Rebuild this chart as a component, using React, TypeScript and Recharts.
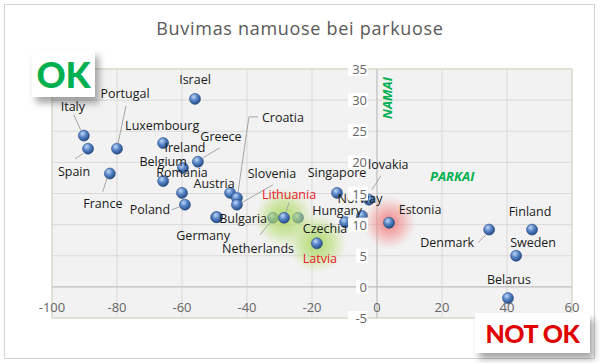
import React from 'react';
import {
  ScatterChart, Scatter, XAxis, YAxis, CartesianGrid, ReferenceLine, ReferenceArea,
} from 'recharts';

// parks change (x) and residential change (y)
const countries = [
  'Israel', 'Italy', 'Spain', 'Portugal', 'France', 'Luxembourg', 'Ireland', 'Greece',
  'Belgium', 'Romania', 'Poland', 'Austria', 'Croatia', 'Slovenia', 'Germany', 'Bulgaria',
  'Netherlands', 'Czechia', 'Singapore', 'Hungary', 'Norway', 'Slovakia',
  'Denmark', 'Finland', 'Sweden', 'Belarus',
];
const parkChange = [
  -56.0, -90.2, -88.9, -80.0, -82.2, -65.8, -59.7, -55.1,
  -65.8, -60.0, -59.1, -45.2, -43.1, -43.1, -49.5, -49.2,
  -32.0, -24.3, -12.3, -9.8, -4.6, -2.5,
  34.5, 47.7, 42.8, 40.3,
];
const homeChange = [
  30.2, 24.3, 22.2, 22.2, 18.2, 23.1, 19.1, 20.1,
  17.0, 15.1, 13.2, 15.1, 14.3, 13.2, 11.2, 11.2,
  11.1, 11.1, 15.1, 10.4, 11.4, 14.0,
  9.2, 9.2, 5.0, -1.8,
];

// highlighted countries
const greenCountries = ['Lithuania', 'Latvia'];
const greenPark = [-28.6, -18.5];
const greenHome = [11.1, 7.0];
const redCountries = ['Estonia'];
const redPark = [3.7];
const redHome = [10.3];

const xTicks = [-100, -80, -60, -40, -20, 0, 20, 40, 60];
const yTicks = [-5, 0, 5, 10, 15, 20, 25, 30, 35];

// label placement in px relative to the point, with optional leader line
const labelPos: Record<string, { dx: number; dy: number; leader?: number[][] }> = {
  Israel: { dx: 0, dy: -19 },
  Italy: { dx: -11, dy: -29, leader: [[-10, -21], [-3, -5]] },
  Spain: { dx: -14, dy: 23, leader: [[-13, 10], [-5, 5]] },
  Portugal: { dx: 8, dy: -55, leader: [[9, -43], [1, -5]] },
  France: { dx: -7, dy: 30, leader: [[-7, 18], [-3, 5]] },
  Luxembourg: { dx: -1, dy: -18 },
  Ireland: { dx: 2, dy: -20 },
  Greece: { dx: 23, dy: -25, leader: [[22, -14], [5, -4]] },
  Belgium: { dx: 0, dy: -20 },
  Romania: { dx: 0, dy: -20 },
  Poland: { dx: -35, dy: 5, leader: [[-13, 5], [-5, 2]] },
  Austria: { dx: -16, dy: -9 },
  Croatia: { dx: 46, dy: -80, leader: [[21, -81], [12, -81], [1, -5]] },
  Slovenia: { dx: 35, dy: -31, leader: [[36, -20], [5, -2]] },
  Germany: { dx: -13, dy: 18 },
  Bulgaria: { dx: 26, dy: 1 },
  Netherlands: { dx: -15, dy: 31, leader: [[-13, 17], [-3, 5]] },
  Lithuania: { dx: 5, dy: -23, leader: [[5, -15], [2, -6]] },
  Czechia: { dx: 27, dy: 11 },
  Latvia: { dx: 3, dy: 15 },
  Singapore: { dx: 0, dy: -20 },
  Hungary: { dx: -8, dy: -12 },
  Norway: { dx: -2, dy: -17 },
  Slovakia: { dx: 16, dy: -35, leader: [[12, -24], [3, -10]] },
  Estonia: { dx: 31, dy: -13 },
  Denmark: { dx: -42, dy: 13, leader: [[-11, 13], [-3, 5]] },
  Finland: { dx: -2, dy: -18 },
  Sweden: { dx: 17, dy: -13 },
  Belarus: { dx: 1, dy: -19 },
};

const W = 600;
const H = 363;
const axisH = 20;
const axisW = 20;
// plot area: x 52..572, y 69..318
const margin = { top: 69, right: 28, bottom: 45 - axisH, left: 52 - axisW };
const plotLeft = margin.left + axisW;
const plotBottom = H - margin.bottom - axisH;
const plotW = W - plotLeft - margin.right;
const zeroX = plotLeft + (plotW * (0 - xTicks[0])) / (xTicks[xTicks.length - 1] - xTicks[0]);
const font = '"Open Sans", sans-serif';

const toPoints = (names: string[], xs: number[], ys: number[]) =>
  names.map((name, i) => ({ name, x: xs[i], y: ys[i] }));

const basePoints = toPoints(countries, parkChange, homeChange);
const greenPoints = toPoints(greenCountries, greenPark, greenHome);
const redPoints = toPoints(redCountries, redPark, redHome);
const allPoints = [...basePoints, ...greenPoints, ...redPoints];

const Ball = (props: any) => {
  const { cx, cy } = props;
  if (cx == null || cy == null) return null;
  return <circle cx={cx} cy={cy} r={5.5} fill="url(#ball)" stroke="#2b4f86" strokeWidth={0.6} />;
};

const glow = (id: string, r: number) => (props: any) => {
  const { cx, cy } = props;
  if (cx == null || cy == null) return null;
  return <circle cx={cx} cy={cy} r={r} fill={`url(#${id})`} />;
};

const PointLabel = (props: any) => {
  const { cx, cy, payload } = props;
  if (cx == null || cy == null) return null;
  const pos = labelPos[payload.name] || { dx: 0, dy: -18 };
  const red = greenCountries.includes(payload.name);
  return (
    <g>
      {pos.leader && (
        <polyline
          points={pos.leader.map(([a, b]) => `${cx + a},${cy + b}`).join(' ')}
          fill="none"
          stroke="#a6a6a6"
          strokeWidth={1}
        />
      )}
      <text
        x={cx + pos.dx}
        y={cy + pos.dy}
        textAnchor="middle"
        dominantBaseline="central"
        fontFamily={font}
        fontSize={12.5}
        fill={red ? '#e8202a' : '#1a1a1a'}
      >
        {payload.name}
      </text>
    </g>
  );
};

const XTick = (props: any) => {
  const { x, payload } = props;
  return (
    <text x={x} y={plotBottom - 11} textAnchor="middle" dominantBaseline="central"
      fontFamily={font} fontSize={13} fill="#666666">
      {payload.value}
    </text>
  );
};

const YTick = (props: any) => {
  const { y, payload } = props;
  const label = String(payload.value);
  const w = label.length * 8 + 4;
  return (
    <g>
      <rect x={zeroX - 9 - w} y={y - 7} width={w} height={14} fill="#ffffff" />
      <text x={zeroX - 10} y={y} textAnchor="end" dominantBaseline="central"
        fontFamily={font} fontSize={13} fill="#666666">
        {label}
      </text>
    </g>
  );
};

const boxShadow = '4px 6px 7px rgba(0,0,0,0.35)';

export default function App() {
  return (
    <div style={{ position: 'relative', width: W, height: H, background: '#ffffff', overflow: 'hidden' }}>
      <style>{'body{margin:0}'}</style>
      <div style={{ position: 'absolute', left: 4, top: 4, width: 589, height: 353, border: '1px solid #d4d4d4' }} />
      <div style={{
        position: 'absolute', left: 0, top: 16, width: W, textAlign: 'center',
        fontFamily: font, fontSize: 18, letterSpacing: 0.7, color: '#595959',
      }}>
        Buvimas namuose bei parkuose
      </div>
      <div style={{ position: 'absolute', left: 0, top: 0 }}>
        <ScatterChart width={W} height={H} margin={margin}>
          <defs>
            <radialGradient id="ball" cx="38%" cy="32%" r="70%">
              <stop offset="0%" stopColor="#c3d8f4" />
              <stop offset="45%" stopColor="#5a88cc" />
              <stop offset="100%" stopColor="#24487f" />
            </radialGradient>
            <radialGradient id="greenGlow">
              <stop offset="0%" stopColor="#a9d65c" stopOpacity={0.9} />
              <stop offset="55%" stopColor="#b6dc72" stopOpacity={0.55} />
              <stop offset="100%" stopColor="#c8e494" stopOpacity={0} />
            </radialGradient>
            <radialGradient id="redGlow">
              <stop offset="0%" stopColor="#f06a6a" stopOpacity={0.85} />
              <stop offset="55%" stopColor="#f49090" stopOpacity={0.5} />
              <stop offset="100%" stopColor="#f8b0b0" stopOpacity={0} />
            </radialGradient>
          </defs>
          <CartesianGrid fill="#f2f2f2" stroke="#d9d9d9" />
          <ReferenceArea x1={-100} x2={60} y1={-5} y2={35} fill="none" stroke="#d6dbbd" />
          <ReferenceLine x={0} stroke="#bdbdbd" />
          <ReferenceLine y={0} stroke="#bdbdbd" />
          <XAxis type="number" dataKey="x" domain={[-100, 60]} ticks={xTicks} interval={0}
            height={axisH} axisLine={false} tickLine={false} tick={<XTick />} />
          <Scatter data={basePoints} shape={<Ball />} isAnimationActive={false} />
          <Scatter data={greenPoints} shape={glow('greenGlow', 30)} isAnimationActive={false} />
          <Scatter data={redPoints} shape={glow('redGlow', 27)} isAnimationActive={false} />
          <Scatter data={greenPoints} shape={<Ball />} isAnimationActive={false} />
          <Scatter data={redPoints} shape={<Ball />} isAnimationActive={false} />
          <Scatter data={allPoints} shape={<PointLabel />} isAnimationActive={false} />
          <YAxis type="number" dataKey="y" domain={[-5, 35]} ticks={yTicks} interval={0}
            width={axisW} axisLine={false} tickLine={false} tick={<YTick />} />
        </ScatterChart>
      </div>
      <div style={{
        position: 'absolute', left: 380, top: 70, width: 14, height: 56,
        display: 'flex', alignItems: 'center', justifyContent: 'center',
      }}>
        <div style={{
          transform: 'rotate(-90deg)', fontFamily: font, fontWeight: 700, fontStyle: 'italic',
          fontSize: 13, color: '#00b050', whiteSpace: 'nowrap',
        }}>
          NAMAI
        </div>
      </div>
      <div style={{
        position: 'absolute', left: 430, top: 167, fontFamily: font, fontWeight: 700,
        fontStyle: 'italic', fontSize: 13, color: '#00b050',
      }}>
        PARKAI
      </div>
      <div style={{
        position: 'absolute', left: 32, top: 50, width: 63, height: 47, background: '#ffffff',
        boxShadow, display: 'flex', alignItems: 'center', justifyContent: 'center',
        fontFamily: 'Lato, sans-serif', fontWeight: 900, fontSize: 36, color: '#00b050',
      }}>
        OK
      </div>
      <div style={{
        position: 'absolute', left: 475, top: 313, width: 115, height: 40, background: '#ffffff',
        boxShadow, display: 'flex', alignItems: 'center', justifyContent: 'center',
        fontFamily: 'Lato, sans-serif', fontWeight: 900, fontSize: 25, letterSpacing: -0.5, color: '#e00000',
      }}>
        NOT OK
      </div>
    </div>
  );
}
